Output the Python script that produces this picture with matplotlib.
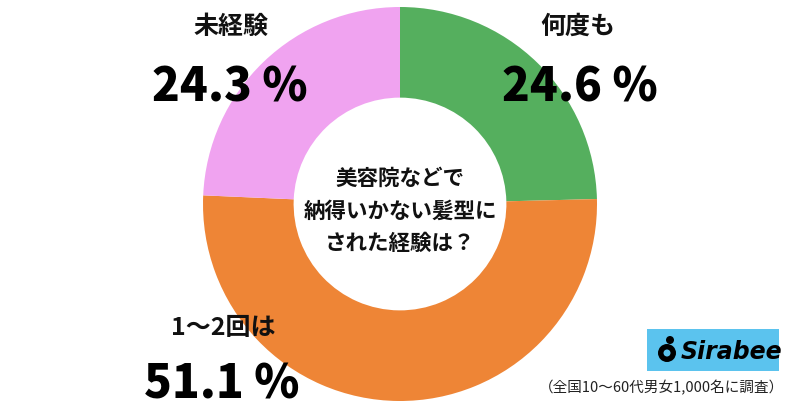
import matplotlib.pyplot as plt
from matplotlib.patches import Rectangle, Circle

plt.rcParams['font.family'] = ['Noto Sans CJK JP', 'DejaVu Sans']

# data
labels = ['何度も', '1〜2回は', '未経験']
values = [24.6, 51.1, 24.3]
colors = ['#55AF5E', '#EE8536', '#F0A3F0']
question = '美容院などで\n納得いかない髪型に\nされた経験は？'
note = '（全国10〜60代男女1,000名に調査）'

W, H = 799, 415
fig = plt.figure(figsize=(W / 100, H / 100), dpi=100)
ax = fig.add_axes([0, 0, 1, 1])

cx, cy, r = 400, H - 204, 197
ax.pie(values, colors=colors, startangle=90, counterclock=False,
       center=(cx, cy), radius=r, wedgeprops=dict(width=r * 0.46, linewidth=0),
       frame=True)
ax.set_xlim(0, W)
ax.set_ylim(0, H)
ax.set_aspect('equal')
ax.axis('off')

ax.text(cx, H - 211, question, ha='center', va='center', fontsize=15.5,
        fontweight='bold', linespacing=1.67, color='#111111')

# label positions (pixels from top-left)
lab_pos = [(578, 27), (223, 328), (231, 27)]
pct_pos = [(580, 88), (222, 385), (230, 88)]
for lab, v, (lx, ly), (px, py) in zip(labels, values, lab_pos, pct_pos):
    ax.text(lx, H - ly, lab, ha='center', va='center', fontsize=18,
            fontweight='bold', color='#111111')
    ax.text(px, H - py, f'{v:.1f} %', ha='center', va='center', fontsize=33,
            fontweight='heavy', color='#000000')

ax.text(784, H - 388, note, ha='right', va='center', fontsize=10.5, color='#222222')

# Sirabee logo
ax.add_patch(Rectangle((647, H - 371), 132, 42, facecolor='#5BC3EE', edgecolor='none'))
ax.add_patch(Circle((667, H - 353), 9, facecolor='black', edgecolor='none'))
ax.add_patch(Circle((667, H - 353), 3.5, facecolor='#5BC3EE', edgecolor='none'))
ax.add_patch(Circle((670, H - 340), 4, facecolor='black', edgecolor='none'))
ax.text(681, H - 352, 'Sirabee', ha='left', va='center', fontsize=17,
        fontweight='bold', fontstyle='italic', family='DejaVu Sans', color='black')

fig.savefig('out.png', dpi=100, facecolor='white')
